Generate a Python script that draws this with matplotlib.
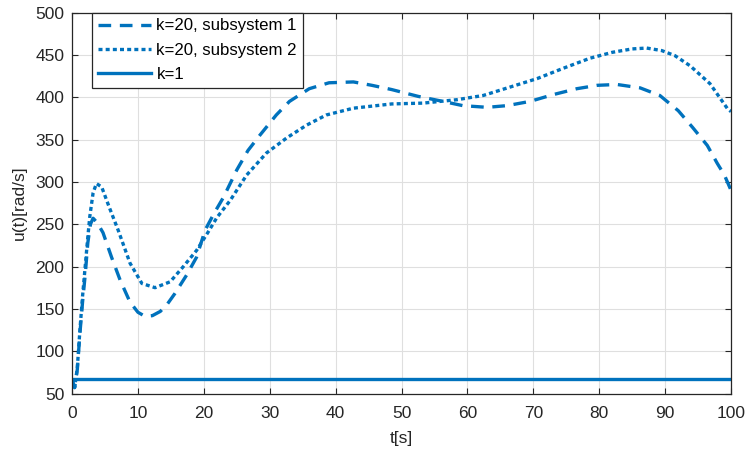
import matplotlib
matplotlib.use("Agg")
import matplotlib.pyplot as plt
import numpy as np

plt.rcParams['font.family'] = ['Liberation Sans', 'DejaVu Sans']

# subsystem 1 (dashed)
t1 = [0, 0.4, 0.8, 1.2, 1.6, 2.0, 2.4, 2.8, 3.2, 3.8, 4.7, 6.0, 7.3, 8.8, 10.0, 11.1, 12.2,
      13.4, 14.5, 15.6, 17.4, 18.9, 20.2, 21.5, 23, 25, 26.7, 28.5, 31, 33, 36, 39, 42.7,
      45.5, 48.5, 52.5, 56.3, 59.3, 63, 66, 69.5, 73, 76.6, 79.7, 82.7, 86.2, 89.2,
      92, 94.2, 96.4, 97.9, 99, 100]
u1 = [67, 57, 78, 121, 158, 190, 228, 250, 257, 252, 240, 211, 184, 158, 146, 141, 142,
      147, 156, 168, 190, 211, 243, 262, 282, 314, 337, 355, 379, 395, 410, 417, 418,
      414, 409, 401, 395, 390, 388, 390, 395, 403, 410, 414, 415, 411, 402,
      384, 364, 343, 322, 308, 290]

# subsystem 2 (dotted)
t2 = [0, 0.4, 0.8, 1.2, 1.6, 2.0, 2.4, 2.7, 3.2, 3.7, 4.5, 5.7, 7.0, 8.8, 10.6, 12.6,
      14.9, 16.9, 18.9, 20.6, 22, 24, 26.5, 29.5, 32.6, 35.6, 38.6, 42.7, 48.5, 53.3,
      58.4, 62.4, 66.5, 70.6, 74.5, 78.6, 82, 85, 87.2, 89.5, 91.5, 93.8, 96.8, 99.5, 100]
u2 = [67, 57, 80, 125, 165, 200, 235, 259, 287, 298, 294, 269, 243, 204, 180, 175,
      182, 200, 219, 240, 258, 278, 308, 334, 352, 367, 379, 387, 392, 393,
      397, 402, 412, 422, 434, 446, 453, 457, 458, 455, 449, 437, 416, 386, 383]

# k = 1 (solid)
t3 = [0, 100]
u3 = [67, 67]

xticks = list(range(0, 101, 10))
yticks = list(range(50, 501, 50))

color = '#0072BD'
txt = '#262626'

fig = plt.figure(figsize=(7.47, 4.53), dpi=100)
ax = fig.add_axes([0.0964, 0.1313, 0.8822, 0.8411])

lw = 2.4
ax.plot(t1, u1, color=color, lw=lw, linestyle=(0, (3.8, 2.6)), label='k=20, subsystem 1')
ax.plot(t2, u2, color=color, lw=lw, linestyle=(0, (1.2, 0.95)), label='k=20, subsystem 2')
ax.plot(t3, u3, color=color, lw=lw, linestyle='-', label='k=1')

ax.set_xlim(0, 100)
ax.set_ylim(50, 500)
ax.set_xticks(xticks)
ax.set_yticks(yticks)
ax.grid(True, color='#dfdfdf', linewidth=0.8)
ax.set_axisbelow(True)
ax.tick_params(direction='in', top=True, right=True, labelsize=12.5, colors=txt, length=4)
ax.tick_params(axis='x', pad=9)
ax.tick_params(axis='y', pad=5.5)
for s in ax.spines.values():
    s.set_color(txt)
    s.set_linewidth(0.9)
ax.set_xlabel('t[s]', fontsize=12.5, color=txt, labelpad=7)
ax.set_ylabel('u(t)[rad/s]', fontsize=12.5, color=txt, labelpad=6)

leg = ax.legend(loc='upper left', bbox_to_anchor=(0.030, 1.0), fontsize=12.1, fancybox=False,
                framealpha=1, edgecolor=txt, borderaxespad=0, handlelength=3.15,
                handletextpad=0.35, labelspacing=0.55, borderpad=0.35)
leg.get_frame().set_linewidth(0.9)

fig.savefig('out.png', dpi=100)
